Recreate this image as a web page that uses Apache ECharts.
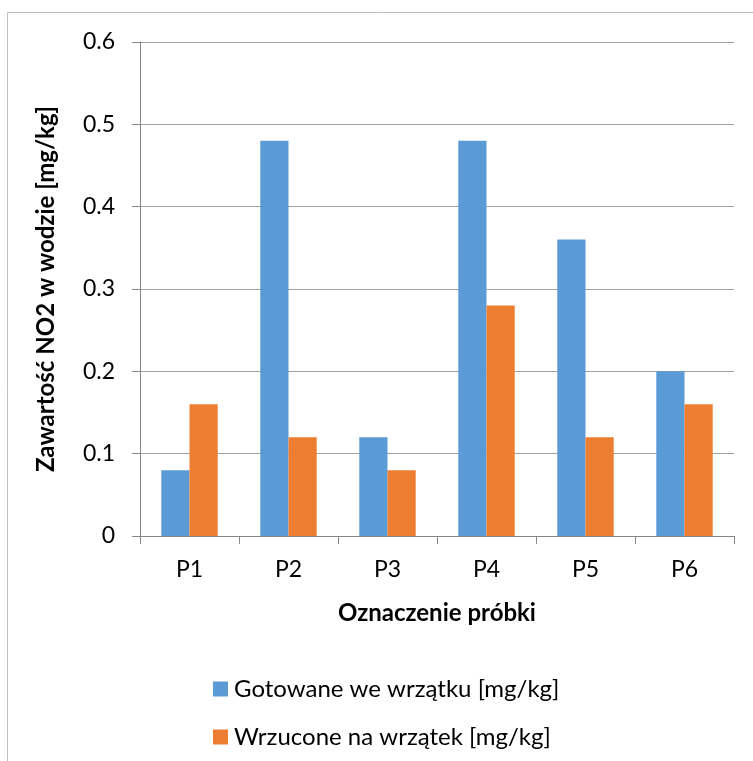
<!DOCTYPE html>
<html><head><meta charset="utf-8">
<script src="https://cdn.jsdelivr.net/npm/echarts@6/dist/echarts.min.js"></script>
<style>html,body{margin:0;padding:0;background:#fff}#c{width:753px;height:761px}</style>
</head><body><div id="c"></div>
<script>
const categories = ['P1','P2','P3','P4','P5','P6'];
const gotowane = [0.08, 0.48, 0.12, 0.48, 0.36, 0.20];
const wrzucone = [0.16, 0.12, 0.08, 0.28, 0.12, 0.16];
const seriesNames = ['Gotowane we wrzątku [mg/kg]', 'Wrzucone na wrzątek [mg/kg]'];
const yTitle = 'Zawartość NO2 w wodzie [mg/kg]';
const xTitle = 'Oznaczenie próbki';
const FONT = 'Lato, "Open Sans", sans-serif';
const chart = echarts.init(document.getElementById('c'), null, {renderer:'canvas'});
chart.setOption({
  animation:false,
  backgroundColor:'#fff',
  textStyle:{fontFamily:FONT},
  graphic:[{type:'rect',shape:{x:7.5,y:12.5,width:800,height:800},style:{fill:'none',stroke:'#bfbfbf',lineWidth:1},silent:true}],
  grid:{left:140,top:42,right:19,bottom:225,containLabel:false},
  legend:{
    orient:'vertical',left:208,top:672,itemWidth:15,itemHeight:15,itemGap:24,
    icon:'rect',
    textStyle:{fontFamily:FONT,fontSize:24,color:'#000',lineHeight:24,padding:[0,0,0,1]},
    data:seriesNames
  },
  xAxis:{
    type:'category',data:categories,
    name:xTitle,nameLocation:'middle',nameGap:65,
    nameTextStyle:{fontFamily:FONT,fontSize:24,fontWeight:'bold',color:'#000'},
    axisLine:{lineStyle:{color:'#868686',width:1}},
    axisTick:{show:true,length:8,alignWithLabel:false,lineStyle:{color:'#868686'}},
    axisLabel:{fontFamily:FONT,fontSize:23,color:'#000',margin:22}
  },
  yAxis:{
    type:'value',min:0,max:0.6,interval:0.1,
    name:yTitle,nameLocation:'middle',nameGap:82,nameRotate:90,
    nameTextStyle:{fontFamily:FONT,fontSize:24,fontWeight:'bold',color:'#000'},
    axisLine:{show:true,lineStyle:{color:'#868686',width:1}},
    axisTick:{show:true,length:8,lineStyle:{color:'#868686'}},
    splitLine:{lineStyle:{color:'#a0a0a0',width:1}},
    axisLabel:{fontFamily:FONT,fontSize:23,color:'#000',margin:25,formatter:v=>String(Math.round(v*10)/10)}
  },
  series:[
    {name:seriesNames[0],type:'bar',data:gotowane,itemStyle:{color:'#5B9BD5'},barGap:'0%',barCategoryGap:'43%'},
    {name:seriesNames[1],type:'bar',data:wrzucone,itemStyle:{color:'#ED7D31'},barGap:'0%',barCategoryGap:'43%'}
  ]
});
</script></body></html>
